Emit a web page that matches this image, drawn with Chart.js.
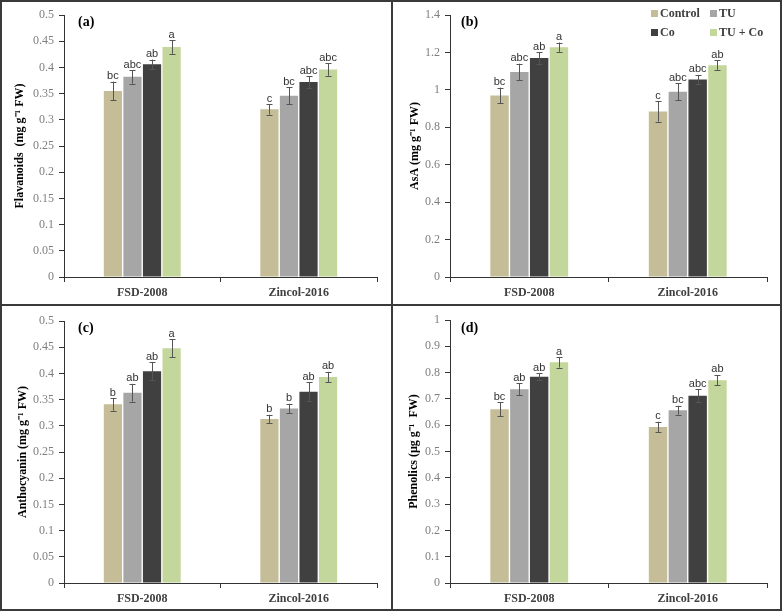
<!DOCTYPE html>
<html><head><meta charset="utf-8">
<script src="https://cdn.jsdelivr.net/npm/chart.js@4.4.1/dist/chart.umd.min.js"></script>
<style>
body{margin:0;background:#fff;}
#wrap{position:relative;width:784px;height:612px;overflow:hidden;background:#fff;}
.pane{position:absolute;}
.line{position:absolute;background:#3a3a3a;z-index:5;}
</style></head><body>
<div id="wrap">
 <div class="pane" style="left:0;top:0;"><canvas id="ca" width="392" height="306"></canvas></div>
 <div class="pane" style="left:392px;top:0;"><canvas id="cb" width="392" height="306"></canvas></div>
 <div class="pane" style="left:0;top:306px;"><canvas id="cc" width="392" height="306"></canvas></div>
 <div class="pane" style="left:392px;top:306px;"><canvas id="cd" width="392" height="306"></canvas></div>
 <div class="line" style="left:0;top:0;width:782px;height:2px"></div>
 <div class="line" style="left:0;top:609px;width:782px;height:2px"></div>
 <div class="line" style="left:0;top:0;width:2px;height:611px"></div>
 <div class="line" style="left:780px;top:0;width:2px;height:611px"></div>
 <div class="line" style="left:391px;top:0;width:2px;height:611px"></div>
 <div class="line" style="left:0;top:304px;width:782px;height:2px"></div>
</div>
<script>
// ---- data ----
const categories = ['FSD-2008', 'Zincol-2016'];
const treatments = ['Control', 'TU', 'Co', 'TU + Co'];
const colors = ['#C4BD97', '#A6A6A6', '#404040', '#C3D69B'];

// each row = one treatment, values [FSD-2008, Zincol-2016]
const flavanoidsMean = [[0.355, 0.320], [0.382, 0.346], [0.406, 0.372], [0.439, 0.396]];
const flavanoidsErr  = [[0.018, 0.010], [0.013, 0.016], [0.009, 0.011], [0.013, 0.012]];
const flavanoidsLet  = [['bc', 'c'], ['abc', 'bc'], ['ab', 'abc'], ['a', 'abc']];

const asaMean = [[0.970, 0.885], [1.095, 0.990], [1.170, 1.055], [1.228, 1.132]];
const asaErr  = [[0.042, 0.055], [0.045, 0.045], [0.030, 0.025], [0.025, 0.025]];
const asaLet  = [['bc', 'c'], ['abc', 'abc'], ['ab', 'abc'], ['a', 'ab']];

const anthoMean = [[0.341, 0.313], [0.363, 0.333], [0.404, 0.365], [0.448, 0.393]];
const anthoErr  = [[0.012, 0.008], [0.017, 0.009], [0.017, 0.018], [0.017, 0.010]];
const anthoLet  = [['b', 'b'], ['ab', 'b'], ['ab', 'ab'], ['a', 'ab']];

const phenMean = [[0.661, 0.593], [0.737, 0.657], [0.784, 0.712], [0.839, 0.771]];
const phenErr  = [[0.026, 0.020], [0.023, 0.017], [0.013, 0.025], [0.020, 0.020]];
const phenLet  = [['bc', 'c'], ['ab', 'bc'], ['ab', 'abc'], ['a', 'ab']];

// ---- plugins ----
const errPlugin = {
  id: 'errbars',
  afterDatasetsDraw(chart) {
    const ctx = chart.ctx, y = chart.scales.y;
    chart.data.datasets.forEach((ds, i) => {
      const meta = chart.getDatasetMeta(i);
      meta.data.forEach((bar, j) => {
        const m = ds.data[j], e = ds.errs[j];
        const yt = y.getPixelForValue(m + e), yb = y.getPixelForValue(m - e);
        const x = Math.round(bar.x) + 0.5;
        ctx.save();
        ctx.strokeStyle = '#555'; ctx.lineWidth = 1;
        ctx.beginPath();
        ctx.moveTo(x, yt); ctx.lineTo(x, yb);
        ctx.moveTo(x - 3, Math.round(yt) + 0.5); ctx.lineTo(x + 3, Math.round(yt) + 0.5);
        ctx.moveTo(x - 3, Math.round(yb) + 0.5); ctx.lineTo(x + 3, Math.round(yb) + 0.5);
        ctx.stroke();
        ctx.fillStyle = '#333';
        ctx.font = '11px "Liberation Sans", Arial, sans-serif';
        ctx.textAlign = 'center'; ctx.textBaseline = 'bottom';
        ctx.fillText(ds.letters[j], bar.x, yt);
        ctx.restore();
      });
    });
  }
};

const panelLabelPlugin = {
  id: 'panelLabel',
  afterDraw(chart, args, opts) {
    const ctx = chart.ctx;
    ctx.save();
    ctx.font = 'bold 14px "Liberation Serif", "Times New Roman", serif';
    ctx.fillStyle = '#000';
    ctx.textAlign = 'left'; ctx.textBaseline = 'middle';
    ctx.fillText(opts.text, chart.chartArea.left + opts.dx, 22);
    ctx.restore();
  }
};

const legendPlugin = {
  id: 'gridLegend',
  afterDraw(chart, args, opts) {
    if (!opts.show) return;
    const ctx = chart.ctx;
    const cols = [259, 318], rows = [13, 32];
    ctx.save();
    ctx.font = 'bold 12px "Liberation Serif", "Times New Roman", serif';
    ctx.textAlign = 'left'; ctx.textBaseline = 'middle';
    chart.data.datasets.forEach((ds, i) => {
      const cx = cols[i % 2], cy = rows[Math.floor(i / 2)];
      ctx.fillStyle = ds.backgroundColor;
      ctx.fillRect(cx, cy - 3, 7, 7);
      ctx.fillStyle = '#404040';
      ctx.fillText(ds.label, cx + 9, cy + 1);
    });
    ctx.restore();
  }
};

function makeChart(id, means, errs, lets, o) {
  return new Chart(document.getElementById(id), {
    type: 'bar',
    data: {
      labels: categories,
      datasets: treatments.map((t, i) => ({
        label: t, data: means[i], errs: errs[i], letters: lets[i],
        backgroundColor: colors[i], categoryPercentage: 0.5, barPercentage: 0.93
      }))
    },
    options: {
      responsive: false, animation: false, devicePixelRatio: 1,
      layout: { padding: { left: o.padL, right: o.padR, top: o.padT, bottom: 0 } },
      plugins: {
        legend: { display: false }, tooltip: { enabled: false },
        panelLabel: { text: o.label, dx: o.labelDx },
        gridLegend: { show: !!o.legend }
      },
      scales: {
        x: {
          grid: { display: true, drawOnChartArea: false, tickLength: 5, color: '#333', offset: true },
          border: { color: '#333', width: 1 },
          ticks: { font: { family: '"Liberation Serif", serif', size: 12, weight: 'bold' }, color: '#404040', padding: 4 },
          afterFit: s => { s.height = 29; }
        },
        y: {
          min: 0, max: o.max,
          ticks: { stepSize: o.step, callback: v => String(+v.toFixed(2)),
                   font: { family: '"Liberation Serif", serif', size: 12 }, color: '#7f7f7f', padding: 5 },
          grid: { drawOnChartArea: false, tickLength: 5, color: '#333' },
          border: { color: '#333', width: 1 },
          title: { display: true, text: o.title, color: '#000', padding: 0,
                   font: { family: '"Liberation Serif", serif', size: 12, weight: 'bold' } },
          afterFit: s => { s.width = o.axisX - o.padL; }
        }
      }
    },
    plugins: [errPlugin, panelLabelPlugin, legendPlugin]
  });
}

makeChart('ca', flavanoidsMean, flavanoidsErr, flavanoidsLet,
  { max: 0.5, step: 0.05, title: 'Flavanoids  (mg g⁻¹ FW)', padL: 13, axisX: 64, padR: 15, padT: 15, label: '(a)', labelDx: 14 });
makeChart('cb', asaMean, asaErr, asaLet,
  { max: 1.4, step: 0.2, title: 'AsA (mg g⁻¹ FW)', padL: 16, axisX: 58, padR: 17, padT: 15, label: '(b)', labelDx: 11, legend: true });
makeChart('cc', anthoMean, anthoErr, anthoLet,
  { max: 0.5, step: 0.05, title: 'Anthocyanin (mg g⁻¹ FW)', padL: 16, axisX: 64, padR: 15, padT: 15, label: '(c)', labelDx: 14 });
makeChart('cd', phenMean, phenErr, phenLet,
  { max: 1, step: 0.1, title: 'Phenolics (µg g⁻¹  FW)', padL: 15, axisX: 58, padR: 17, padT: 14, label: '(d)', labelDx: 11 });
</script>
</body></html>
